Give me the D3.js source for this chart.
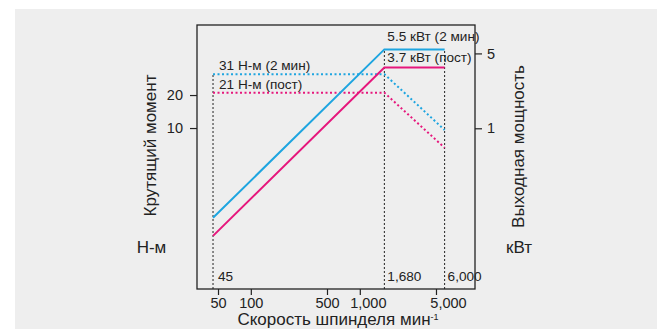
<!DOCTYPE html>
<html>
<head>
<meta charset="utf-8">
<script src="https://cdn.jsdelivr.net/npm/d3@7"></script>
<style>
  body { margin: 0; background: #fff; }
  svg { display: block; font-family: "Liberation Sans", Arial, sans-serif; }
</style>
</head>
<body>
<svg id="chart" width="672" height="329"></svg>
<script>
// key speeds, min^-1
var speeds = [45, 1680, 6000];
// output power, kW
var power2min = [0.146, 5.45, 5.45];
var powerCont = [0.099, 3.7, 3.7];
// torque, N·m
var torque2min = [31, 31, 9.6];
var torqueCont = [21, 21, 6.6];

var xTicks = [50, 100, 500, 1000, 5000];
var xTickLabels = ["50", "100", "500", "1,000", "5,000"];
var torqueTicks = [10, 20];
var powerTicks = [1, 5];
var speedLabels = ["45", "1,680", "6,000"];

var blue = "#1ea5e0", pink = "#e6177c", ink = "#222";

var svg = d3.select("#chart");

svg.append("rect")
  .attr("x", 15).attr("y", 9)
  .attr("width", 642).attr("height", 320)
  .attr("fill", "#eeeeee");

var pl = 197, pr = 475, pt = 25, pb = 289;

var x = d3.scaleLog().domain([32.08, 11400]).range([pl, pr]);
var yT = d3.scaleLog().domain([0.34, 87.1]).range([pb, pt]);
var yP = d3.scaleLog().domain([0.0316, 9.21]).range([pb, pt]);

// vertical dotted markers
var vTop = [yT(torque2min[0]), yP(power2min[1]), yP(power2min[2])];
svg.selectAll("line.vmark").data(speeds).enter()
  .append("line").classed("vmark", true)
  .attr("x1", function(d){ return x(d); })
  .attr("x2", function(d){ return x(d); })
  .attr("y1", pb)
  .attr("y2", function(d, i){ return vTop[i]; })
  .attr("stroke", ink)
  .attr("stroke-width", 1)
  .attr("stroke-dasharray", "2,2");

function series(vals, scale, color, dotted) {
  var line = d3.line()
    .x(function(d, i){ return x(speeds[i]); })
    .y(function(d){ return scale(d); });
  svg.append("path")
    .datum(vals)
    .attr("d", line)
    .attr("fill", "none")
    .attr("stroke", color)
    .attr("stroke-width", 2)
    .attr("stroke-dasharray", dotted ? "2,2.5" : null);
}

series(torque2min, yT, blue, true);
series(torqueCont, yT, pink, true);
series(power2min, yP, blue, false);
series(powerCont, yP, pink, false);

// frame
svg.append("rect")
  .attr("x", pl).attr("y", pt)
  .attr("width", pr - pl).attr("height", pb - pt)
  .attr("fill", "none")
  .attr("stroke", ink)
  .attr("stroke-width", 1.3);

// axes
var fs = "14.5px";
var ax = svg.append("g").attr("transform", "translate(0," + pb + ")")
  .call(d3.axisBottom(x).tickValues(xTicks).tickSize(6).tickPadding(3)
    .tickFormat(function(d, i){ return xTickLabels[i]; }));
// comma labels sit a little right of their ticks in the original
var labelShift = [0, 0, 0, 8, 12];
ax.selectAll(".tick text").attr("dx", function(d, i){ return labelShift[i]; });
var al = svg.append("g").attr("transform", "translate(" + pl + ",0)")
  .call(d3.axisLeft(yT).tickValues(torqueTicks).tickSize(7).tickPadding(7)
    .tickFormat(d3.format("d")));
var ar = svg.append("g").attr("transform", "translate(" + pr + ",0)")
  .call(d3.axisRight(yP).tickValues(powerTicks).tickSize(7).tickPadding(5)
    .tickFormat(d3.format("d")));
[ax, al, ar].forEach(function(g){
  g.select(".domain").remove();
  g.selectAll("line").attr("stroke", ink).attr("stroke-width", 1.2);
  g.selectAll("text").attr("fill", ink).style("font-size", fs)
    .style("font-family", "'Liberation Sans', Arial, sans-serif");
});

// in-plot labels
function label(tx, px, py) {
  svg.append("text").attr("x", px).attr("y", py)
    .attr("fill", ink).style("font-size", "13.6px").text(tx);
}
label("31 Н-м (2 мин)", x(speeds[0]) + 6, yT(torque2min[0]) - 4);
label("21 Н-м (пост)", x(speeds[0]) + 6, yT(torqueCont[0]) - 4);
label("5.5 кВт (2 мин)", x(speeds[1]) + 3, yP(power2min[1]) - 8);
label("3.7 кВт (пост)", x(speeds[1]) + 3, yP(powerCont[1]) - 5);
speedLabels.forEach(function(s, i){
  label(s, x(speeds[i]) + (i === 0 ? 5 : 3), pb - 8);
});

// axis titles
var tfs = "17px";
svg.append("text")
  .attr("transform", "translate(156,145.5) rotate(-90)")
  .attr("text-anchor", "middle")
  .attr("fill", ink).style("font-size", tfs)
  .text("Крутящий момент");
svg.append("text")
  .attr("x", 151.5).attr("y", 253)
  .attr("text-anchor", "middle")
  .attr("fill", ink).style("font-size", tfs)
  .text("Н-м");
svg.append("text")
  .attr("transform", "translate(524,146.5) rotate(-90)")
  .attr("text-anchor", "middle")
  .attr("fill", ink).style("font-size", tfs)
  .text("Выходная мощность");
svg.append("text")
  .attr("x", 519).attr("y", 253)
  .attr("text-anchor", "middle")
  .attr("fill", ink).style("font-size", tfs)
  .text("кВт");
var xt = svg.append("text")
  .attr("x", 338).attr("y", 325)
  .attr("text-anchor", "middle")
  .attr("fill", ink).style("font-size", tfs);
xt.append("tspan").text("Скорость шпинделя мин");
xt.append("tspan").attr("dy", -5).style("font-size", "9px").text("-1");
</script>
</body>
</html>
